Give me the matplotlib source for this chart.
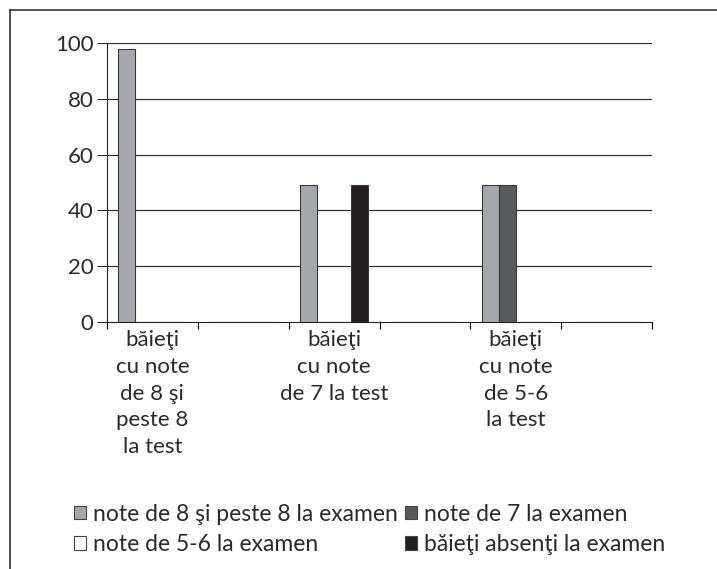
import matplotlib
matplotlib.use("Agg")
import matplotlib.pyplot as plt
from matplotlib.patches import Rectangle
from matplotlib.lines import Line2D
import numpy as np

plt.rcParams["font.family"] = ["Lato", "DejaVu Sans"]

# ----------------------------------------------------------------------
# Data
# ----------------------------------------------------------------------
categories = [
    "băieţi\ncu note\nde 8 şi\npeste 8\nla test",
    "",
    "băieţi\ncu note\nde 7 la test",
    "",
    "băieţi\ncu note\nde 5-6\nla test",
    "",
]
series_names = [
    "note de 8 şi peste 8 la examen",
    "note de 7 la examen",
    "note de 5-6 la examen",
    "băieţi absenţi la examen",
]
note_8_plus = [98, 0, 49, 0, 49, 0]
note_7 = [0, 0, 0, 0, 49, 0]
note_5_6 = [0, 0, 0, 0, 0, 0]
absenti = [0, 0, 49, 0, 0, 0]
series_values = [note_8_plus, note_7, note_5_6, absenti]
colors = ["#a7a8ac", "#58595b", "#ffffff", "#231f20"]
y_ticks = [0, 20, 40, 60, 80, 100]

# ----------------------------------------------------------------------
# Plot
# ----------------------------------------------------------------------
W, H = 717, 569
fig = plt.figure(figsize=(W / 100, H / 100), dpi=100)
ax = fig.add_axes([107 / W, 1 - 322 / H, 545 / W, 279 / H])

x = np.arange(len(categories))
bw = 0.187
for i, (vals, col) in enumerate(zip(series_values, colors)):
    ax.bar(x + (i - 1.5) * bw, vals, width=bw, color=col,
           edgecolor="#3a3a3a", linewidth=0.8, zorder=3)

ax.set_xlim(-0.5, len(categories) - 0.5)
ax.set_ylim(0, 100)
ax.set_yticks(y_ticks)
ax.tick_params(axis="y", labelsize=16, length=7.2, width=0.8, pad=2.5,
               colors="#2a2a2a")
ax.set_xticks(x)
ax.set_xticklabels(categories, fontsize=16, linespacing=1.42,
                   color="#2a2a2a")
ax.tick_params(axis="x", which="major", length=0, pad=6)
ax.set_xticks(np.arange(-0.5, len(categories)), minor=True)
ax.tick_params(axis="x", which="minor", length=5, width=0.8)

for y in y_ticks[1:]:
    ax.axhline(y, color="#333333", linewidth=0.9, zorder=1)
for s in ["top", "right"]:
    ax.spines[s].set_visible(False)
for s in ["left", "bottom"]:
    ax.spines[s].set_linewidth(0.8)
    ax.spines[s].set_color("#222222")

# legend
handles = [Rectangle((0, 0), 1, 1, facecolor=c, edgecolor="#444444",
                     linewidth=0.8) for c in colors]
order = [0, 2, 1, 3]
fig.legend([handles[i] for i in order], [series_names[i] for i in order],
           ncol=2, loc="upper left", bbox_to_anchor=(53 / W, 1 - 483 / H),
           frameon=False, fontsize=16.5, handlelength=0.55,
           handleheight=0.55, handletextpad=0.3, columnspacing=0.3,
           labelspacing=0.42, labelcolor="#2a2a2a")

# page frame (left and top edges)
fig.add_artist(Line2D([10 / W, 10 / W], [0, 1 - 10 / H],
                      transform=fig.transFigure, color="#333333", lw=1.2))
fig.add_artist(Line2D([10 / W, 1], [1 - 10 / H, 1 - 10 / H],
                      transform=fig.transFigure, color="#333333", lw=1.2))

fig.savefig("out.png", dpi=100)
